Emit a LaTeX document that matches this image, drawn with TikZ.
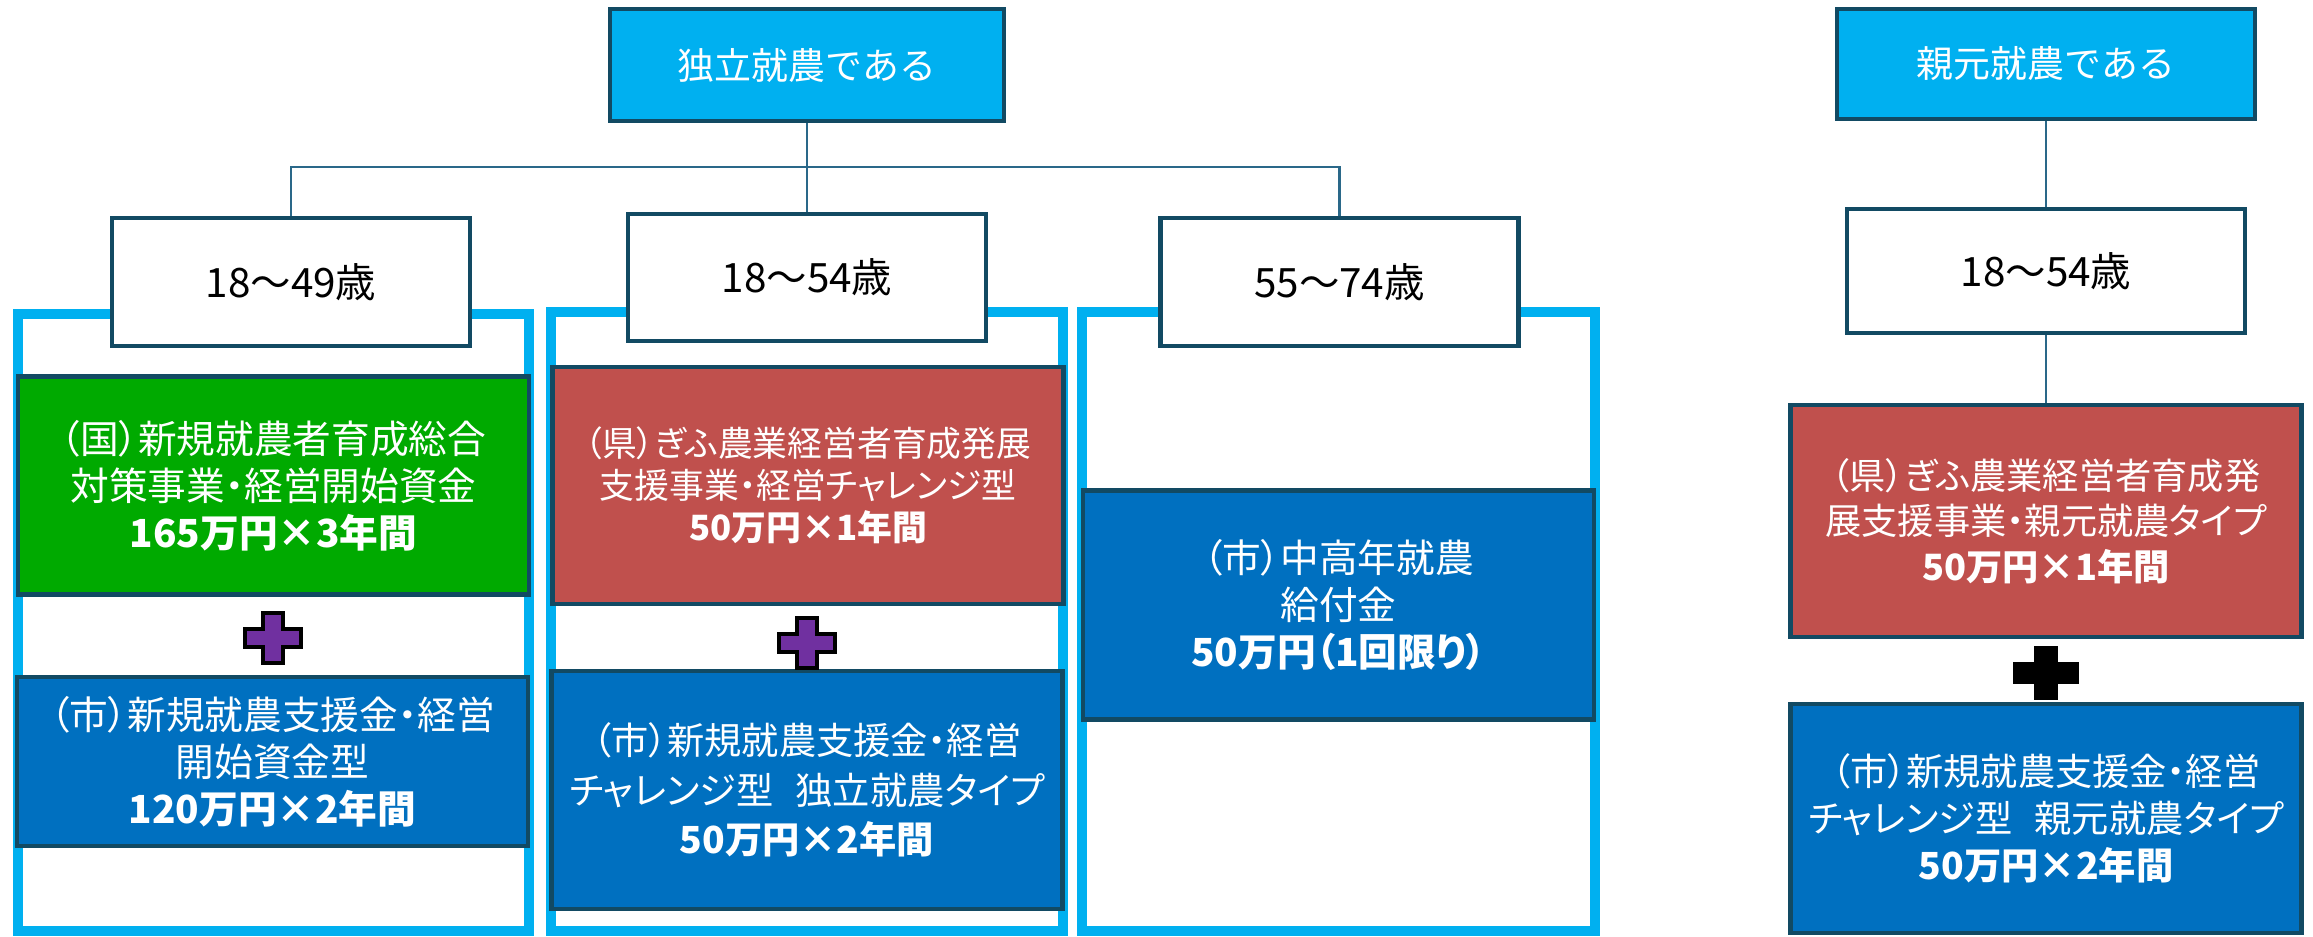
\documentclass[tikz,border=0pt]{standalone}
\usepackage{fontspec}
\setmainfont{Noto Sans CJK JP}
\newfontfamily\aidfont[RawFeature=+palt]{Noto Sans CJK JP}

\definecolor{rootcyan}{HTML}{00B0F0}
\definecolor{edgeblue}{HTML}{124A63}
\definecolor{linkblue}{HTML}{2A6889}
\definecolor{kunigreen}{HTML}{00AA00}
\definecolor{kenred}{HTML}{C0504D}
\definecolor{shiblue}{HTML}{0070C0}
\definecolor{plusviolet}{HTML}{7030A0}

\begin{document}
\begin{tikzpicture}[
    x=0.01cm, y=-0.01cm,
    % Define styles - boxes, frames and links
    rootbox/.style={rectangle, draw=edgeblue, fill=rootcyan, line width=1.3pt, minimum width=3.94cm, minimum height=1.12cm, inner sep=0pt, text=white, font=\fontsize{10.5}{13}\selectfont},
    agebox/.style={rectangle, draw=edgeblue, fill=white, line width=1.3pt, minimum width=3.58cm, minimum height=1.28cm, inner sep=0pt, font=\fontsize{11.5}{13}\selectfont},
    aidbox/.style={rectangle, draw=edgeblue, line width=1.3pt, minimum width=5.11cm, inner sep=0pt, text=white, align=center, font=\aidfont\fontsize{11}{13.4}\selectfont},
    bandframe/.style={draw=rootcyan, line width=3pt},
    conn/.style={draw=linkblue, line width=0.6pt},
    plusmark/.style={draw=black, line width=0.9pt, line join=miter}
]
\useasboundingbox (0,0) rectangle (2313,937);

% Frames round each age group
\draw[bandframe] (18,314) rectangle (529,931);
\draw[bandframe] (551,312) rectangle (1063,931);
\draw[bandframe] (1082,312) rectangle (1595,931);

% Top layer
\node[rootbox] (indep) at (807,65) {独立就農である};
\node[rootbox, minimum width=4.18cm, minimum height=1.10cm] (oyamoto) at (2046,64) {親元就農である};

% Age layer
\node[agebox] (age49) at (291,282) {18〜49歳};
\node[agebox, minimum height=1.27cm] (age54) at (807,277.5) {18〜54歳};
\node[agebox] (age74) at (1339.5,282) {55〜74歳};
\node[agebox, minimum width=3.98cm, minimum height=1.24cm] (age54b) at (2046,271) {18〜54歳};

% Links
\coordinate (fork) at (807,167);
\draw[conn] (indep.south) -- (fork);
\draw[conn] (fork) -| (age49.north);
\draw[conn] (fork) -- (age54.north);
\draw[conn] (fork) -| (age74.north);
\draw[conn] (oyamoto.south) -- (age54b.north);

% Aid layer
\node[aidbox, fill=kunigreen, minimum height=2.18cm] (kuni) at (273.5,485.5) {（国）新規就農者育成総合\\対策事業・経営開始資金\\{\bfseries 165万円×3年間}};
\node[aidbox, fill=shiblue, minimum height=1.69cm] (shi49) at (272.5,761.5) {（市）新規就農支援金・経営\\開始資金型\\{\bfseries 120万円×2年間}};
\node[aidbox, fill=kenred, minimum height=2.37cm, font=\aidfont\fontsize{9.9}{12}\selectfont] (ken54) at (808,485.5) {（県）ぎふ農業経営者育成発展\\支援事業・経営チャレンジ型\\{\bfseries 50万円×1年間}};
\node[aidbox, fill=shiblue, minimum height=2.38cm, font=\aidfont\fontsize{10.6}{14}\selectfont] (shi54) at (807,790) {（市）新規就農支援金・経営\\チャレンジ型\hspace{0.6em}独立就農タイプ\\{\bfseries 50万円×2年間}};
\node[aidbox, fill=shiblue, minimum height=2.29cm] (shi74) at (1338.5,605) {（市）中高年就農\\給付金\\{\bfseries 50万円（1回限り）}};
\node[aidbox, fill=kenred, minimum height=2.32cm, font=\aidfont\fontsize{10.3}{13}\selectfont] (kenb) at (2046,521) {（県）ぎふ農業経営者育成発\\展支援事業・親元就農タイプ\\{\bfseries 50万円×1年間}};
\node[aidbox, fill=shiblue, minimum height=2.29cm, font=\aidfont\fontsize{10.6}{13.4}\selectfont] (shib) at (2046,818.5) {（市）新規就農支援金・経営\\チャレンジ型\hspace{0.6em}親元就農タイプ\\{\bfseries 50万円×2年間}};

\draw[conn] (age54b.south) -- (kenb.north);

% Plus signs
\foreach \cx/\cy/\w/\col in {273/638/28/plusviolet, 807/643/28/plusviolet, 2046/673/31/black}
  \filldraw[plusmark, fill=\col] (\cx-10,\cy-25) -- (\cx+10,\cy-25) -- (\cx+10,\cy-9) -- (\cx+\w,\cy-9) -- (\cx+\w,\cy+9) -- (\cx+10,\cy+9) -- (\cx+10,\cy+25) -- (\cx-10,\cy+25) -- (\cx-10,\cy+9) -- (\cx-\w,\cy+9) -- (\cx-\w,\cy-9) -- (\cx-10,\cy-9) -- cycle;

\end{tikzpicture}
\end{document}
